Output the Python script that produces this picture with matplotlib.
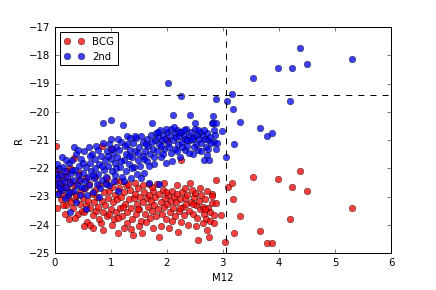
import matplotlib
matplotlib.use('Agg')
import matplotlib.pyplot as plt
import numpy as np

# BCG (red) points: M12, R
bcg = np.array([
    [0.02,-21.2],[0.03,-22.05],[0.04,-22.6],[0.06,-22.35],[0.08,-22.85],[0.1,-22.2],[0.12,-23.1],[0.14,-22.5],
    [0.16,-22.95],[0.18,-22.3],[0.2,-23.3],[0.22,-22.7],[0.24,-23.05],[0.26,-23.8],[0.27,-22.45],[0.29,-23.2],
    [0.31,-22.85],[0.33,-23.4],[0.34,-21.62],[0.35,-22.6],[0.37,-23.1],[0.39,-22.95],[0.41,-23.6],[0.43,-22.4],
    [0.45,-23.25],[0.47,-22.8],[0.49,-23.5],[0.51,-23.05],[0.52,-23.55],[0.54,-22.7],[0.56,-23.3],[0.58,-23.9],
    [0.6,-23.15],[0.62,-22.55],[0.63,-24.0],[0.64,-23.4],[0.66,-22.9],[0.68,-23.65],[0.7,-23.2],[0.72,-22.75],
    [0.74,-23.5],[0.76,-23.0],[0.78,-23.35],[0.8,-22.6],[0.82,-23.93],[0.84,-23.15],[0.85,-21.2],[0.86,-23.55],
    [0.88,-22.85],[0.9,-23.3],[0.92,-22.5],[0.94,-23.7],[0.96,-23.05],[0.98,-22.8],[1.0,-21.32],[1.0,-23.45],
    [1.02,-22.65],[1.04,-23.2],[1.06,-23.8],[1.08,-22.95],[1.1,-23.55],[1.12,-23.1],[1.14,-24.28],[1.15,-22.7],
    [1.17,-23.4],[1.19,-23.0],[1.21,-23.7],[1.23,-22.85],[1.25,-23.25],[1.27,-22.6],[1.29,-23.55],[1.3,-23.95],
    [1.32,-23.1],[1.34,-22.75],[1.36,-23.4],[1.38,-23.8],[1.4,-24.36],[1.41,-23.05],[1.43,-22.9],[1.45,-23.6],
    [1.47,-23.25],[1.49,-22.7],[1.51,-23.45],[1.53,-23.0],[1.55,-23.85],[1.56,-24.28],[1.58,-23.2],[1.6,-22.85],
    [1.62,-23.6],[1.64,-23.05],[1.66,-23.35],[1.68,-22.95],[1.7,-23.75],[1.72,-23.15],[1.74,-23.5],[1.76,-22.8],
    [1.78,-23.3],[1.8,-23.0],[1.82,-22.56],[1.84,-23.45],[1.86,-24.42],[1.87,-22.9],[1.89,-23.2],[1.91,-23.6],
    [1.93,-22.75],[1.95,-23.35],[1.97,-23.05],[1.99,-23.8],[2.0,-20.99],[2.01,-23.25],[2.03,-22.95],[2.05,-23.55],
    [2.07,-23.15],[2.09,-22.8],[2.11,-23.4],[2.13,-23.0],[2.15,-23.7],[2.17,-23.2],[2.19,-22.9],[2.21,-24.27],
    [2.22,-23.5],[2.24,-23.1],[2.26,-21.7],[2.27,-22.85],[2.29,-23.35],[2.31,-23.65],[2.33,-23.05],[2.35,-23.25],
    [2.37,-22.95],[2.39,-23.5],[2.41,-22.52],[2.43,-23.2],[2.46,-23.6],[2.48,-23.0],[2.51,-22.88],[2.52,-23.3],
    [2.54,-23.75],[2.56,-24.52],[2.58,-23.15],[2.6,-23.45],[2.62,-22.95],[2.64,-23.35],[2.66,-23.6],[2.68,-23.1],
    [2.7,-23.8],[2.72,-24.19],[2.74,-23.4],[2.76,-24.44],[2.78,-23.55],[2.8,-22.9],[2.81,-22.97],[2.81,-23.24],
    [2.85,-23.65],[2.88,-22.4],[2.88,-23.24],
    [0.05,-23.4],[0.11,-22.7],[0.19,-23.6],[0.23,-22.1],[0.36,-23.75],[0.44,-22.15],[0.53,-24.05],[0.57,-22.35],
    [0.69,-24.1],[0.73,-22.3],[0.79,-23.8],[0.87,-24.2],[0.93,-22.35],[1.03,-24.0],[1.09,-22.45],[1.13,-23.75],
    [1.18,-22.45],[1.24,-24.1],[1.31,-22.55],[1.37,-24.15],[1.44,-22.5],[1.5,-24.05],[1.57,-22.6],[1.63,-23.9],
    [1.69,-22.55],[1.75,-24.1],[1.81,-23.7],[1.9,-24.05],[1.96,-22.5],[2.04,-24.1],[2.1,-23.85],[2.18,-22.6],
    [2.25,-23.9],[2.32,-22.7],[2.38,-24.0],[2.45,-22.75],[2.53,-24.05],[2.59,-22.7],[2.65,-23.95],[2.71,-22.8],
    [2.77,-23.85],[2.84,-23.95],[0.28,-22.0],[0.15,-23.3],[0.97,-23.6],[1.22,-23.35],[1.48,-23.45],[1.73,-22.65],
    [1.98,-22.85],[2.23,-23.4],[2.47,-23.25],[2.69,-23.45],
    [2.97,-23.65],[3.04,-24.62],[3.09,-22.66],[3.16,-22.51],[3.19,-23.1],[3.2,-24.3],[3.31,-23.68],[3.53,-22.32],
    [3.67,-24.22],[3.78,-24.63],[3.87,-24.63],[3.99,-22.39],[4.19,-23.8],[4.23,-22.65],[4.38,-22.11],[4.5,-22.81],
    [5.3,-23.4],
])

# 2nd brightest (blue) points: M12, R
second = np.array([
    [0.02,-22.2],[0.03,-22.6],[0.05,-22.35],[0.07,-22.9],[0.08,-22.0],[0.1,-22.5],[0.12,-22.25],[0.14,-22.75],
    [0.15,-21.95],[0.17,-22.45],[0.19,-22.1],[0.2,-22.65],[0.22,-22.3],[0.24,-22.95],[0.25,-21.8],[0.27,-23.55],
    [0.28,-22.5],[0.29,-22.15],[0.31,-21.7],[0.33,-22.4],[0.34,-21.25],[0.35,-22.8],[0.37,-22.05],[0.38,-21.5],
    [0.4,-22.6],[0.41,-22.25],[0.43,-21.9],[0.45,-22.95],[0.46,-22.4],[0.48,-21.65],[0.5,-22.15],[0.52,-22.7],
    [0.53,-21.4],[0.55,-22.45],[0.56,-23.45],[0.57,-21.95],[0.59,-22.3],[0.61,-21.25],[0.62,-22.6],[0.64,-21.8],
    [0.65,-22.1],[0.67,-21.5],[0.68,-22.85],[0.7,-22.35],[0.72,-21.65],[0.73,-22.0],[0.75,-22.55],[0.77,-21.35],
    [0.78,-22.2],[0.8,-21.85],[0.81,-22.7],[0.83,-21.55],[0.85,-22.4],[0.86,-20.4],[0.87,-21.1],[0.88,-22.05],
    [0.9,-21.7],[0.92,-22.3],[0.93,-21.4],[0.95,-21.9],[0.97,-22.6],[0.98,-21.15],[1.0,-20.3],[1.0,-21.65],
    [1.01,-20.95],[1.02,-22.1],[1.04,-21.45],[1.06,-22.45],[1.07,-21.8],[1.09,-21.25],[1.1,-22.0],[1.12,-21.6],
    [1.14,-22.8],[1.15,-21.35],[1.17,-21.95],[1.19,-21.05],[1.21,-22.3],[1.22,-20.47],[1.23,-21.7],[1.25,-21.2],
    [1.27,-22.1],[1.28,-21.5],[1.3,-20.85],[1.32,-21.85],[1.34,-21.35],[1.35,-20.94],[1.36,-22.35],[1.38,-21.6],
    [1.4,-21.1],[1.42,-21.95],[1.44,-21.4],[1.46,-20.94],[1.47,-22.2],[1.49,-21.7],[1.51,-21.25],[1.53,-21.9],
    [1.55,-20.85],[1.57,-21.55],[1.58,-21.05],[1.6,-22.15],[1.62,-21.4],[1.64,-20.95],[1.65,-21.75],[1.67,-21.2],
    [1.69,-22.5],[1.7,-21.5],[1.72,-20.8],[1.74,-20.41],[1.75,-21.3],[1.77,-21.85],[1.79,-21.0],[1.81,-20.75],
    [1.83,-21.4],[1.85,-20.9],[1.86,-21.15],[1.87,-22.55],[1.88,-20.65],[1.9,-21.6],[1.92,-21.0],[1.93,-20.8],
    [1.95,-21.3],[1.97,-20.95],[1.98,-21.8],[2.0,-20.7],[2.02,-18.98],[2.03,-21.1],[2.05,-20.85],[2.07,-21.45],
    [2.08,-20.6],[2.11,-20.12],[2.12,-21.0],[2.14,-20.75],[2.15,-21.3],[2.17,-20.9],[2.19,-20.65],[2.2,-21.15],
    [2.22,-20.85],[2.24,-21.6],[2.25,-19.45],[2.26,-20.7],[2.28,-21.05],[2.3,-20.8],[2.32,-21.35],[2.33,-20.95],
    [2.35,-20.6],[2.37,-21.2],[2.39,-20.85],[2.41,-20.12],[2.42,-21.0],[2.44,-20.7],[2.46,-21.5],[2.48,-20.9],
    [2.5,-20.6],[2.51,-20.4],[2.52,-21.15],[2.54,-20.8],[2.56,-21.35],[2.58,-20.95],[2.6,-20.7],[2.62,-21.1],
    [2.64,-20.85],[2.66,-21.7],[2.68,-20.95],[2.7,-21.25],[2.72,-20.73],[2.72,-21.52],[2.74,-21.0],[2.76,-21.71],
    [2.78,-20.9],[2.8,-20.4],[2.82,-20.16],[2.82,-20.4],[2.84,-21.05],[2.86,-20.8],[2.88,-19.54],[2.88,-20.4],
    [2.9,-21.1],
    [0.04,-21.85],[0.09,-22.7],[0.13,-21.6],[0.18,-23.05],[0.21,-21.7],[0.26,-22.85],[0.32,-22.05],[0.39,-23.2],
    [0.42,-21.35],[0.47,-22.65],[0.51,-21.8],[0.58,-22.95],[0.63,-21.55],[0.69,-22.25],[0.74,-21.2],[0.79,-23.0],
    [0.84,-21.9],[0.91,-22.55],[0.96,-21.55],[1.03,-21.3],[1.08,-22.25],[1.13,-20.95],[1.18,-21.75],[1.24,-22.45],
    [1.29,-21.15],[1.33,-21.55],[1.39,-22.0],[1.43,-20.85],[1.48,-21.45],[1.54,-22.35],[1.59,-21.65],[1.63,-21.15],
    [1.68,-21.9],[1.73,-21.05],[1.78,-21.6],[1.84,-20.7],[1.89,-21.2],[1.94,-21.5],[1.99,-20.6],[2.04,-21.25],
    [2.09,-21.75],[2.13,-20.55],[2.18,-21.4],[2.23,-20.7],[2.27,-21.25],[2.31,-20.65],[2.36,-21.0],[2.4,-21.45],
    [2.45,-20.95],[2.49,-21.25],[2.55,-20.65],[2.61,-21.4],[2.67,-20.65],[2.73,-21.3],[2.79,-21.1],[2.85,-20.65],
    [2.87,-21.3],
    [2.98,-20.69],[3.06,-21.58],[3.08,-19.6],[3.16,-19.36],[3.19,-19.91],[3.2,-21.12],[3.31,-20.37],
    [3.53,-18.81],[3.67,-20.56],[3.78,-20.87],[3.87,-20.75],[3.99,-18.43],[4.19,-19.63],[4.23,-18.45],
    [4.38,-17.75],[4.5,-18.31],[5.3,-18.11],
])

m12_cut = 3.05
r_cut = -19.4

plt.style.use('classic')
plt.rcParams['font.size'] = 10

fig = plt.figure(figsize=(6, 4), dpi=72.67)
fig.subplots_adjust(left=0.125, right=0.897, bottom=0.127, top=0.904)
ax = fig.add_subplot(111)

ax.plot(bcg[:, 0], bcg[:, 1], 'ro', alpha=0.75, markersize=6.5, markeredgewidth=0.5, label='BCG')
ax.plot(second[:, 0], second[:, 1], 'bo', alpha=0.75, markersize=6.5, markeredgewidth=0.5, label='2nd')
ax.axvline(m12_cut, color='k', linestyle='--')
ax.axhline(r_cut, color='k', linestyle='--')

ax.set_xlim(0, 6)
ax.set_ylim(-25, -17)
ax.set_xlabel('M12')
ax.set_ylabel('R')
ax.legend(loc='upper left', numpoints=2, fontsize=10)

fig.savefig('out.png', dpi=72.67)
